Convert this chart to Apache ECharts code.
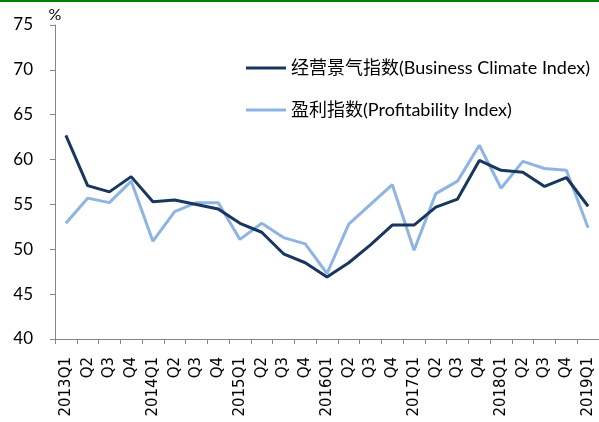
<!DOCTYPE html>
<html>
<head>
<meta charset="utf-8">
<script src="https://cdn.jsdelivr.net/npm/echarts@6/dist/echarts.min.js"></script>
<style>
  html, body { margin: 0; padding: 0; background: #fff; }
  #chart { width: 599px; height: 422px; }
</style>
</head>
<body>
<div id="chart"></div>
<script>
// 季度
const quarters = [
  "2013Q1", "Q2", "Q3", "Q4",
  "2014Q1", "Q2", "Q3", "Q4",
  "2015Q1", "Q2", "Q3", "Q4",
  "2016Q1", "Q2", "Q3", "Q4",
  "2017Q1", "Q2", "Q3", "Q4",
  "2018Q1", "Q2", "Q3", "Q4",
  "2019Q1"
]

// 经营景气指数
const businessClimate = [
  62.7, 57.1, 56.4, 58.1,
  55.3, 55.5, 55.0, 54.5,
  52.9, 51.9, 49.5, 48.5,
  46.9, 48.5, 50.5, 52.7,
  52.7, 54.7, 55.6, 59.9,
  58.8, 58.6, 57.0, 58.0,
  54.8
]

// 盈利指数
const profitability = [
  52.9, 55.7, 55.2, 57.6,
  50.9, 54.2, 55.2, 55.2,
  51.1, 52.9, 51.3, 50.6,
  47.3, 52.8, 55.0, 57.2,
  49.9, 56.2, 57.6, 61.6,
  56.8, 59.8, 59.0, 58.8,
  52.4
]

const seriesNames = ["经营景气指数(Business Climate Index)", "盈利指数(Profitability Index)"]

const chart = echarts.init(document.getElementById("chart"))

const font = "Lato, 'Noto Sans CJK SC', sans-serif"

const option = {
  animation: false,
  textStyle: { fontFamily: font },
  graphic: [
    {
      type: "rect",
      left: 0,
      top: 0,
      shape: { width: 599, height: 2 },
      style: { fill: "#008000" }
    }
  ],
  grid: {
    left: 55,
    right: -3,
    top: 25,
    bottom: 83
  },
  legend: {
    orient: "vertical",
    left: 241,
    top: 54,
    itemGap: 24,
    itemWidth: 40,
    itemHeight: 3,
    icon: "rect",
    textStyle: {
      fontFamily: font,
      fontSize: 18,
      color: "#000"
    },
    data: seriesNames
  },
  xAxis: {
    type: "category",
    data: quarters,
    boundaryGap: true,
    axisLine: { lineStyle: { color: "#868686", width: 1 } },
    axisTick: { show: true, length: 5, alignWithLabel: false, lineStyle: { color: "#868686" } },
    axisLabel: {
      interval: 0,
      rotate: 90,
      margin: 18,
      fontSize: 15,
      color: "#000",
      fontFamily: "'DejaVu Sans', sans-serif"
    },
    splitLine: { show: false }
  },
  yAxis: {
    type: "value",
    min: 40,
    max: 75,
    interval: 5,
    name: "%",
    nameLocation: "end",
    nameGap: 2,
    nameTextStyle: { fontSize: 16, color: "#000", fontFamily: font, align: "center" },
    axisLine: { show: true, lineStyle: { color: "#868686", width: 1 } },
    axisTick: { show: true, length: 5, lineStyle: { color: "#868686" } },
    axisLabel: {
      margin: 22,
      fontSize: 17,
      color: "#000",
      fontFamily: font
    },
    splitLine: { show: false }
  },
  series: [
    {
      name: seriesNames[0],
      type: "line",
      data: businessClimate,
      symbol: "none",
      lineStyle: { color: "#17375E", width: 3 },
      itemStyle: { color: "#17375E" },
      z: 3
    },
    {
      name: seriesNames[1],
      type: "line",
      data: profitability,
      symbol: "none",
      lineStyle: { color: "#8EB4E3", width: 3 },
      itemStyle: { color: "#8EB4E3" },
      z: 2
    }
  ]
}

chart.setOption(option)
</script>
</body>
</html>
